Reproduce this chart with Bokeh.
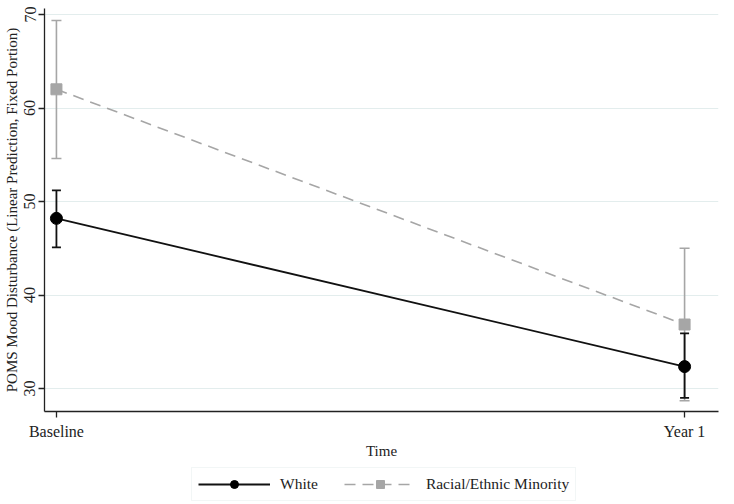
from bokeh.plotting import figure
from bokeh.layouts import column
from bokeh.models import (Whisker, ColumnDataSource, Legend, LegendItem,
                          FixedTicker, Range1d, TeeHead)
from bokeh.embed import file_html
from bokeh.resources import INLINE

# ---- data ----
times = ["Baseline", "Year 1"]
white_mean = [48.2, 32.35]
white_lo = [45.1, 29.0]
white_hi = [51.2, 35.9]
minority_mean = [62.0, 36.85]
minority_lo = [54.6, 28.7]
minority_hi = [69.35, 45.0]
y_ticks = [30, 40, 50, 60, 70]
series_names = ["White", "Racial/Ethnic Minority"]

xs = list(range(len(times)))

SERIF = "Liberation Serif"
GRAY = "#a6a6a6"
BLACK = "#111111"

p = figure(frame_width=674, frame_height=403, output_backend="svg", toolbar_location=None,
           x_range=Range1d(-0.019, 1.054), y_range=Range1d(27.55, 70.64),
           min_border_left=40, min_border_right=4, min_border_top=8,
           min_border_bottom=55)
p.outline_line_color = None
p.background_fill_color = "white"

# axes
p.xaxis.ticker = FixedTicker(ticks=xs)
p.xaxis.major_label_overrides = {i: t for i, t in enumerate(times)}
p.yaxis.ticker = FixedTicker(ticks=y_ticks)
p.yaxis.major_label_orientation = "vertical"
for ax in (p.xaxis[0], p.yaxis[0]):
    ax.axis_line_color = "#222222"
    ax.axis_line_width = 1.3
    ax.major_tick_line_color = "#222222"
    ax.major_tick_line_width = 1.3
    ax.major_tick_in = 0
    ax.major_tick_out = 6
    ax.minor_tick_line_color = None
    ax.major_label_text_font = SERIF
    ax.major_label_text_font_size = "16px"
    ax.major_label_text_color = "#222222"
    ax.axis_label_text_font = SERIF
    ax.axis_label_text_font_size = "15px"
    ax.axis_label_text_font_style = "normal"
    ax.axis_label_text_color = "#222222"
p.xaxis.axis_label = "Time"
p.yaxis.axis_label = "POMS Mood Disturbance (Linear Prediction, Fixed Portion)"
p.xaxis.major_label_standoff = 5
p.xaxis.axis_label_standoff = 0
p.yaxis.major_label_standoff = 3
p.yaxis.axis_label_standoff = 2

p.xgrid.grid_line_color = None
p.ygrid.ticker = FixedTicker(ticks=y_ticks)
p.ygrid.grid_line_color = "#e3eded"
p.ygrid.grid_line_width = 1.2

# sources
src_w = ColumnDataSource(dict(x=xs, y=white_mean, lo=white_lo, hi=white_hi))
src_m = ColumnDataSource(dict(x=xs, y=minority_mean, lo=minority_lo, hi=minority_hi))

# minority (gray)
wm = Whisker(source=src_m, base="x", upper="hi", lower="lo",
             line_color=GRAY, line_width=1.6,
             upper_head=TeeHead(size=10, line_color=GRAY, line_width=1.6),
             lower_head=TeeHead(size=10, line_color=GRAY, line_width=1.6))
p.add_layout(wm)
p.line("x", "y", source=src_m, line_color=GRAY, line_width=1.6, line_dash="11 7")
p.scatter("x", "y", source=src_m, marker="square", size=11,
          fill_color=GRAY, line_color=GRAY)

# white (black)
ww = Whisker(source=src_w, base="x", upper="hi", lower="lo",
             line_color=BLACK, line_width=1.8,
             upper_head=TeeHead(size=9, line_color=BLACK, line_width=1.8),
             lower_head=TeeHead(size=9, line_color=BLACK, line_width=1.8))
p.add_layout(ww)
p.line("x", "y", source=src_w, line_color=BLACK, line_width=1.8)
p.scatter("x", "y", source=src_w, marker="circle", size=12,
          fill_color="#000000", line_color="#000000")

# ---- legend strip (separate figure below; its view range excludes the data) ----
lg = figure(frame_width=674, height=36, output_backend="svg", toolbar_location=None,
            x_range=Range1d(-0.019, 1.054), y_range=Range1d(-2, -1),
            x_axis_type=None, y_axis_type=None,
            min_border_left=40, min_border_right=4,
            min_border_top=0, min_border_bottom=0)
lg.outline_line_color = None
lg.xgrid.grid_line_color = None
lg.ygrid.grid_line_color = None
r_lw = lg.line("x", "y", source=src_w, line_color=BLACK, line_width=1.8)
r_sw = lg.scatter("x", "y", source=src_w, marker="circle", size=12,
                  fill_color="#000000", line_color="#000000")
r_lm = lg.line("x", "y", source=src_m, line_color=GRAY, line_width=1.6, line_dash="11 7")
r_sm = lg.scatter("x", "y", source=src_m, marker="square", size=11,
                  fill_color=GRAY, line_color=GRAY)

legend = Legend(items=[LegendItem(label=series_names[0], renderers=[r_lw, r_sw]),
                       LegendItem(label=series_names[1], renderers=[r_lm, r_sm])],
                orientation="horizontal", location=(147, 1),
                glyph_width=72, glyph_height=20, spacing=26, padding=6,
                label_text_font=SERIF, label_text_font_size="15.5px",
                label_text_color="#222222", label_standoff=10,
                border_line_color="#e6eeee", border_line_width=1.2,
                background_fill_color="white", background_fill_alpha=1.0,
                margin=0)
lg.add_layout(legend, "center")

layout = column(p, lg, spacing=0)
open("out.html", "w").write(file_html(layout, INLINE))
